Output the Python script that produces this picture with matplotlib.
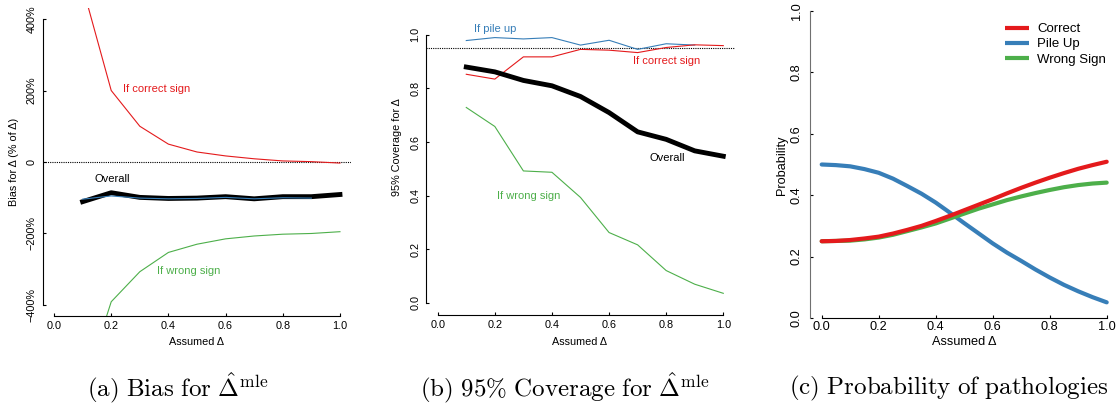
import matplotlib
matplotlib.use("Agg")
import matplotlib.pyplot as plt

plt.rcParams['font.family'] = ['Liberation Sans', 'DejaVu Sans']
plt.rcParams['mathtext.fontset'] = 'cm'

RED = '#E41A1C'
BLUE = '#377EB8'
GREEN = '#4DAF4A'

# panel (a): bias in % of delta
delta = [0.1, 0.2, 0.3, 0.4, 0.5, 0.6, 0.7, 0.8, 0.9, 1.0]
bias_correct = [490, 200, 100, 50, 28, 17, 9, 3, 1, -3]
bias_wrong = [-640, -391, -307, -253, -230, -215, -207, -202, -200, -195]
bias_overall = [-111, -86, -99, -102, -101, -97, -103, -97, -97, -91]
delta_pile = [0.1, 0.2, 0.3, 0.4, 0.5, 0.6, 0.7, 0.8, 0.9]
bias_pile = [-104, -95, -101, -103, -102, -99, -103, -100, -101]

# panel (b): 95% coverage
cov_pile = [0.979, 0.990, 0.985, 0.990, 0.962, 0.980, 0.946, 0.967, 0.962]
cov_correct = [0.853, 0.835, 0.918, 0.918, 0.946, 0.943, 0.934, 0.953, 0.963, 0.960]
cov_overall = [0.880, 0.862, 0.830, 0.810, 0.770, 0.710, 0.638, 0.610, 0.567, 0.547]
cov_wrong = [0.729, 0.658, 0.492, 0.487, 0.393, 0.262, 0.216, 0.120, 0.069, 0.035]

# panel (c): probability of pathologies
delta_c = [0.0, 0.05, 0.1, 0.15, 0.2, 0.25, 0.3, 0.35, 0.4, 0.45, 0.5,
           0.55, 0.6, 0.65, 0.7, 0.75, 0.8, 0.85, 0.9, 0.95, 1.0]
p_correct = [0.250, 0.251, 0.254, 0.259, 0.265, 0.275, 0.287, 0.300, 0.316, 0.333, 0.351,
             0.369, 0.387, 0.406, 0.424, 0.441, 0.457, 0.472, 0.486, 0.498, 0.509]
p_pile = [0.500, 0.498, 0.494, 0.485, 0.473, 0.454, 0.430, 0.405, 0.376, 0.343, 0.309,
          0.276, 0.243, 0.213, 0.186, 0.158, 0.132, 0.108, 0.087, 0.068, 0.051]
p_wrong = [0.250, 0.251, 0.252, 0.256, 0.262, 0.271, 0.283, 0.295, 0.308, 0.324, 0.340,
           0.356, 0.370, 0.384, 0.396, 0.407, 0.417, 0.426, 0.433, 0.438, 0.441]

W, H = 1120, 411
fig = plt.figure(figsize=(W / 100, H / 100), dpi=100)


def add_ax(left, top, right, bottom):
    return fig.add_axes([left / W, 1 - bottom / H, (right - left) / W, (bottom - top) / H])


def style(ax, ybounds, fs, pad_x, pad_y):
    for s in ['top', 'right']:
        ax.spines[s].set_visible(False)
    ax.spines['left'].set_bounds(*ybounds)
    ax.spines['bottom'].set_bounds(0, 1)
    ax.tick_params(direction='in', length=2.5, width=0.8, labelsize=fs)
    ax.tick_params(axis='x', pad=pad_x)
    ax.tick_params(axis='y', pad=pad_y)
    ax.set_xticks([0, 0.2, 0.4, 0.6, 0.8, 1.0])
    ax.set_xticklabels(['0.0', '0.2', '0.4', '0.6', '0.8', '1.0'])
    for lab in ax.get_yticklabels():
        lab.set_rotation(90)
        lab.set_va('center')


# ---- (a)
ax1 = add_ax(42.6, 7.6, 351.4, 316.4)
ax1.set_xlim(-0.04, 1.04)
ax1.set_ylim(-432, 432)
ax1.axhline(0, color='black', ls=(0, (1, 1)), lw=0.8)
ax1.plot(delta, bias_correct, color=RED, lw=0.8)
ax1.plot(delta, bias_wrong, color=GREEN, lw=0.8)
ax1.plot(delta, bias_overall, color='black', lw=3.5)
ax1.plot(delta_pile, bias_pile, color=BLUE, lw=0.8)
ax1.set_yticks([-400, -200, 0, 200, 400])
ax1.set_yticklabels(['\u2212400%', '\u2212200%', '0', '200%', '400%'])
style(ax1, (-400, 400), 7.8, 3.5, 4.3)
ax1.text(0.241, 204, 'If correct sign', color=RED, fontsize=8, va='center')
ax1.text(0.14, -48, 'Overall', color='black', fontsize=8, va='center')
ax1.text(0.36, -305, 'If wrong sign', color=GREEN, fontsize=8, va='center')
fig.text(14 / W, 1 - 162 / H, 'Bias for \u0394 (% of \u0394)', rotation=90,
         ha='center', va='center', fontsize=7.8)
fig.text(197 / W, 1 - 342 / H, 'Assumed \u0394', ha='center', va='center', fontsize=7.8)

# ---- (b)
ax2 = add_ax(426.3, 7.6, 734.7, 315)
ax2.set_xlim(-0.04, 1.04)
ax2.set_ylim(-0.046, 1.102)
ax2.axhline(0.95, color='black', ls=(0, (1, 1)), lw=0.8)
ax2.plot(delta_pile, cov_pile, color=BLUE, lw=0.8)
ax2.plot(delta, cov_correct, color=RED, lw=0.8)
ax2.plot(delta, cov_wrong, color=GREEN, lw=0.8)
ax2.plot(delta, cov_overall, color='black', lw=3.5)
ax2.set_yticks([0, 0.2, 0.4, 0.6, 0.8, 1.0])
ax2.set_yticklabels(['0.0', '0.2', '0.4', '0.6', '0.8', '1.0'])
style(ax2, (0, 1), 7.8, 3.5, 4.3)
ax2.text(0.127, 1.022, 'If pile up', color=BLUE, fontsize=8, va='center')
ax2.text(0.684, 0.903, 'If correct sign', color=RED, fontsize=8, va='center')
ax2.text(0.740, 0.542, 'Overall', color='black', fontsize=8, va='center')
ax2.text(0.208, 0.399, 'If wrong sign', color=GREEN, fontsize=8, va='center')
fig.text(397 / W, 1 - 147 / H, '95% Coverage for \u0394', rotation=90,
         ha='center', va='center', fontsize=7.8)
fig.text(580 / W, 1 - 342 / H, 'Assumed \u0394', ha='center', va='center', fontsize=7.8)

# ---- (c)
ax3 = add_ax(810.3, 11, 1118.1, 318)
ax3.set_xlim(-0.04, 1.04)
ax3.set_ylim(0, 1)
ax3.plot(delta_c, p_pile, color=BLUE, lw=3, solid_capstyle='round', label='Pile Up')
ax3.plot(delta_c, p_wrong, color=GREEN, lw=3, solid_capstyle='round', label='Wrong Sign')
ax3.plot(delta_c, p_correct, color=RED, lw=3, solid_capstyle='round', label='Correct')
ax3.set_yticks([0, 0.2, 0.4, 0.6, 0.8, 1.0])
ax3.set_yticklabels(['0.0', '0.2', '0.4', '0.6', '0.8', '1.0'])
style(ax3, (0, 1), 9.2, 2.5, 5.5)
ax3.spines['left'].set_color('#707070')
h, l = ax3.get_legend_handles_labels()
order = [2, 0, 1]
leg = ax3.legend([h[i] for i in order], [l[i] for i in order], loc='upper left',
                 bbox_to_anchor=((1005 - 810.3) / 307.8, 1 - (23 - 11) / 307), frameon=False,
                 fontsize=9.5, handlelength=1.85, handletextpad=0.6, labelspacing=0.22,
                 borderpad=0, borderaxespad=0)
for ln in leg.get_lines():
    ln.set_solid_capstyle('butt')
fig.text(782 / W, 1 - 165 / H, 'Probability', rotation=90,
         ha='center', va='center', fontsize=9.2)
fig.text(964 / W, 1 - 342 / H, 'Assumed \u0394', ha='center', va='center', fontsize=9.2)

# captions
cap = 18
fig.text(178 / W, 1 - 388 / H, r'$\mathrm{(a)\ Bias\ for\ }\hat{\Delta}^{\mathrm{mle}}$',
         ha='center', va='center', fontsize=cap)
fig.text(565 / W, 1 - 388 / H, r'$\mathrm{(b)\ 95\%\ Coverage\ for\ }\hat{\Delta}^{\mathrm{mle}}$',
         ha='center', va='center', fontsize=cap)
fig.text(949 / W, 1 - 388 / H, r'$\mathrm{(c)\ Probability\ of\ pathologies}$',
         ha='center', va='center', fontsize=cap)

fig.savefig('out.png', dpi=100)
